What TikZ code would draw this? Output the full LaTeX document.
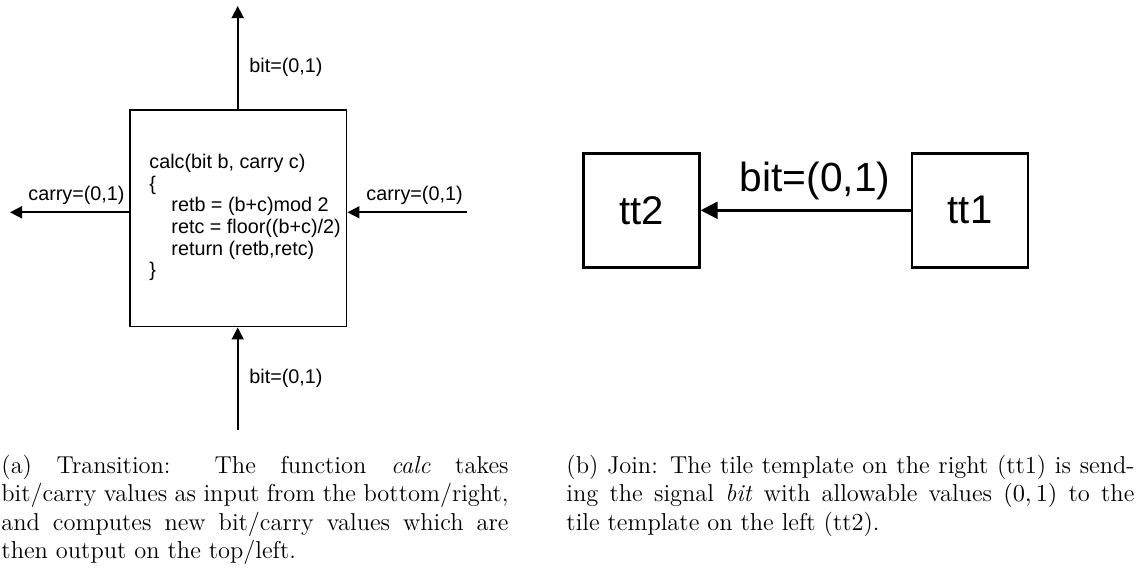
\documentclass[tikz,border=0pt]{standalone}
\usepackage{fontspec}
\newfontfamily\labfont{Liberation Sans}
\usetikzlibrary{arrows.meta}
\begin{document}
\begin{tikzpicture}[x=0.45pt,y=-0.45pt,
  flow/.style={line width=0.75pt,-{Triangle[length=5.4pt,width=5.4pt]}},
  joinarrow/.style={line width=1.1pt,-{Triangle[length=7.6pt,width=7.6pt]}},
  sig/.style={font=\labfont\fontsize{8.9}{10}\selectfont,inner sep=0pt},
  code/.style={font=\labfont\fontsize{8.9}{9.75}\selectfont,inner sep=0pt,align=left},
  cell/.style={draw,line width=0.75pt,inner sep=0pt,minimum width=97.5pt,minimum height=97.5pt},
  tile/.style={draw,line width=1.2pt,inner sep=0pt,minimum width=52.2pt,minimum height=51.3pt,
    font=\labfont\fontsize{18}{20}\selectfont},
  biglabel/.style={font=\labfont\fontsize{18.3}{20}\selectfont,inner sep=0pt},
  capt/.style={font=\fontsize{11}{12.75}\selectfont,inner sep=0pt,align=justify,anchor=north west}
]
\useasboundingbox (0,0) rectangle (1137,567);

% (a) transition cell with its four signals
\node[cell] (calc) at (238.3,218.3) {};
\node[code,anchor=north west] (body) at (149,153.6)
  {calc(bit b, carry c)\\
   \{\\
   \hspace*{9.9pt}retb = (b+c)mod 2\\
   \hspace*{9.9pt}retc = floor((b+c)/2)\\
   \hspace*{9.9pt}return (retb,retc)\\
   \}};

\coordinate (topend) at (237.7,6);
\coordinate (botstart) at (237.7,430);
\coordinate (leftend) at (10,212.3);
\coordinate (rightstart) at (466.7,212.3);

\draw[flow] (topend |- calc.north) -- (topend);
\draw[flow] (botstart) -- (botstart |- calc.south);
\draw[flow] (leftend -| calc.west) -- (leftend);
\draw[flow] (rightstart) -- (rightstart -| calc.east);

\node[sig,anchor=west] (bitout) at (249,67) {bit=(0,1)};
\node[sig,anchor=west] (bitin) at (249,378) {bit=(0,1)};
\node[sig,anchor=east] (carryout) at (125,195) {carry=(0,1)};
\node[sig,anchor=west] (carryin) at (366,195) {carry=(0,1)};

% (b) join of two tile templates
\node[tile] (tt2) at (641.3,210.3) {tt2};
\node[tile] (tt1) at (970,210.3) {tt1};
\draw[joinarrow] (tt1.west) -- node[biglabel,pos=0.455,above=4.2pt] (joinlabel) {bit=(0,1)} (tt2.east);

% captions, broken into lines as typeset in the sub-figure captions
\node[capt,text width=228.2pt] (capa) at (1,454.7)
  {(a) Transition: The function \emph{calc} takes\linebreak
   bit/carry values as input from the bottom/right,\linebreak
   and computes new bit/carry values which are\linebreak
   then output on the top/left.};
\node[capt,text width=255.6pt] (capb) at (566,454.7)
  {(b) Join: The tile template on the right (tt1) is send-\linebreak
   ing the signal \emph{bit} with allowable values $(0,1)$ to the\linebreak
   tile template on the left (tt2).};
\end{tikzpicture}
\end{document}
